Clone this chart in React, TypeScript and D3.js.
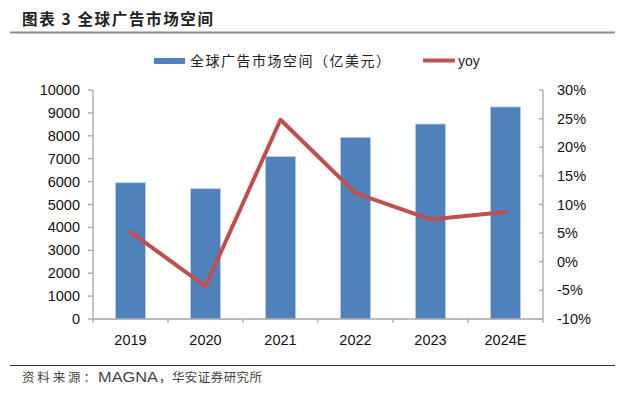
import React from "react";
import * as d3 from "d3";

const categories = ["2019", "2020", "2021", "2022", "2023", "2024E"];
const marketSize = [5950, 5690, 7090, 7930, 8515, 9260];
const yoy = [5.2, -4.3, 24.8, 12.0, 7.4, 8.7];
const leftTicks = [0, 1000, 2000, 3000, 4000, 5000, 6000, 7000, 8000, 9000, 10000];
const rightTicks = [-10, -5, 0, 5, 10, 15, 20, 25, 30];

const W = 625;
const H = 396;
const plot = { left: 93, right: 543, top: 90, bottom: 319 };
const axisColor = "#a6a6a6";
const sans = "'Liberation Sans', Arial, sans-serif";
const cjk = "'Noto Sans CJK SC', sans-serif";

export default function App() {
  const x = d3.scaleBand<string>().domain(categories).range([plot.left, plot.right]).paddingInner(0.6).paddingOuter(0.3);
  const band = d3.scaleBand<string>().domain(categories).range([plot.left, plot.right]);
  const yL = d3.scaleLinear().domain([0, 10000]).range([plot.bottom, plot.top]);
  const yR = d3.scaleLinear().domain([-10, 30]).range([plot.bottom, plot.top]);
  const line = d3
    .line<number>()
    .x((_, i) => (band(categories[i]) as number) + band.bandwidth() / 2)
    .y((d) => yR(d));

  return (
    <div style={{ position: "fixed", left: 0, top: 0 }}>
      <svg width={W} height={H} style={{ display: "block", background: "#fff" }}>
        {/* title */}
        <text x={22} y={25} fontFamily={cjk} fontWeight={700} fontSize={15.5} fill="#222" textLength={191} lengthAdjust="spacing">
          图表 3 全球广告市场空间
        </text>
        <line x1={10} x2={615} y1={32.5} y2={32.5} stroke="#8c8c8c" strokeWidth={2} />

        {/* legend */}
        <rect x={154} y={58} width={31} height={6} fill="#4F81BD" />
        <text x={190} y={66} fontFamily={cjk} fontSize={14} fill="#222" textLength={200} lengthAdjust="spacing">
          全球广告市场空间（亿美元）
        </text>
        <line x1={423} x2={455} y1={60.5} y2={60.5} stroke="#C0504D" strokeWidth={4} />
        <text x={458} y={66} fontFamily={sans} fontSize={14} fill="#222">
          yoy
        </text>

        {/* bars */}
        {marketSize.map((v, i) => (
          <rect
            key={categories[i]}
            x={x(categories[i])}
            y={yL(v)}
            width={x.bandwidth()}
            height={yL(0) - yL(v)}
            fill="#4F81BD"
            stroke="#B9CDE5"
            strokeWidth={0.8}
          />
        ))}

        {/* left axis */}
        <line x1={plot.left} x2={plot.left} y1={plot.top} y2={plot.bottom} stroke={axisColor} strokeWidth={1.3} />
        {leftTicks.map((t) => (
          <g key={t}>
            <line x1={plot.left - 5} x2={plot.left} y1={yL(t)} y2={yL(t)} stroke={axisColor} strokeWidth={1.3} />
            <text x={80} y={yL(t) + 5} textAnchor="end" fontFamily={sans} fontSize={14.5} fill="#111">
              {t}
            </text>
          </g>
        ))}

        {/* right axis */}
        <line x1={plot.right} x2={plot.right} y1={plot.top} y2={plot.bottom} stroke={axisColor} strokeWidth={1.3} />
        {rightTicks.map((t) => (
          <g key={t}>
            <line x1={plot.right - 4} x2={plot.right} y1={yR(t)} y2={yR(t)} stroke={axisColor} strokeWidth={1.3} />
            <text x={557} y={yR(t) + 5} textAnchor="start" fontFamily={sans} fontSize={14.5} fill="#111">
              {t}%
            </text>
          </g>
        ))}

        {/* bottom axis */}
        <line x1={plot.left} x2={plot.right} y1={plot.bottom} y2={plot.bottom} stroke={axisColor} strokeWidth={1.3} />
        {categories.map((c) => (
          <line key={"t" + c} x1={band(c)} x2={band(c)} y1={plot.bottom} y2={plot.bottom + 4} stroke={axisColor} strokeWidth={1.3} />
        ))}
        <line x1={plot.right} x2={plot.right} y1={plot.bottom} y2={plot.bottom + 4} stroke={axisColor} strokeWidth={1.3} />
        {categories.map((c) => (
          <text key={"l" + c} x={(band(c) as number) + band.bandwidth() / 2} y={345} textAnchor="middle" fontFamily={sans} fontSize={14.5} fill="#111">
            {c}
          </text>
        ))}

        {/* yoy line */}
        <path d={line(yoy) || ""} fill="none" stroke="#C0504D" strokeWidth={4} strokeLinejoin="round" strokeLinecap="round" />

        {/* footer */}
        <line x1={10} x2={615} y1={365.5} y2={365.5} stroke="#333" strokeWidth={1} />
        <text x={22} y={382} fontFamily={cjk} fontSize={12.5} fill="#444" textLength={74} lengthAdjust="spacing">
          资料来源：
        </text>
        <text x={98} y={382} fontFamily={sans} fontSize={14} fill="#444" textLength={60} lengthAdjust="spacingAndGlyphs">
          MAGNA
        </text>
        <text x={159} y={382} fontFamily={cjk} fontSize={12.5} fill="#444" textLength={103} lengthAdjust="spacing">
          ，华安证券研究所
        </text>
      </svg>
    </div>
  );
}
